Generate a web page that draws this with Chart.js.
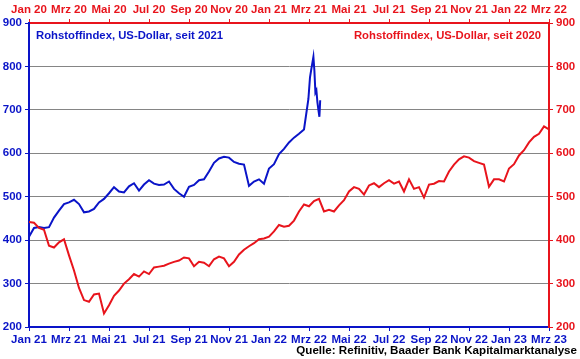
<!DOCTYPE html>
<html>
<head>
<meta charset="utf-8">
<script src="https://cdn.jsdelivr.net/npm/chart.js@4.4.0/dist/chart.umd.min.js"></script>
<style>
  html, body { margin: 0; padding: 0; background: #fff; }
  canvas { display: block; }
</style>
</head>
<body>
<canvas id="chart" width="580" height="359"></canvas>
<script>
// months between samples (x = months since start of each series)
const STEP = 0.25;

const topLabels = ['Jan 20', 'Mrz 20', 'Mai 20', 'Jul 20', 'Sep 20', 'Nov 20', 'Jan 21',
  'Mrz 21', 'Mai 21', 'Jul 21', 'Sep 21', 'Nov 21', 'Jan 22', 'Mrz 22'];
const bottomLabels = ['Jan 21', 'Mrz 21', 'Mai 21', 'Jul 21', 'Sep 21', 'Nov 21', 'Jan 22',
  'Mrz 22', 'Mai 22', 'Jul 22', 'Sep 22', 'Nov 22', 'Jan 23', 'Mrz 23'];

// Rohstoffindex seit 2020 (red, top axis), one value per quarter month
const red2020 = [
  442, 440, 428, 424,
  387, 383, 395, 402,
  365, 330, 290, 262,
  258, 275, 277, 231,
  250, 272, 284, 300,
  310, 322, 316, 328,
  322, 337, 339, 341,
  346, 350, 353, 360,
  358, 340, 350, 348,
  340, 356, 362, 358,
  340, 350, 367, 378,
  386, 393, 402, 404,
  408, 420, 435, 431,
  433, 445, 466, 482,
  478, 490, 495, 466,
  470, 466, 480, 492,
  512, 522, 518, 505,
  526, 531, 522, 531,
  538, 530, 535, 512,
  540, 518, 522, 498,
  528, 530, 536, 535,
  558, 574, 586, 593,
  590, 582, 578, 574,
  523, 540, 540, 535,
  565, 575, 595, 607,
  625, 638, 645, 662,
  655
];

// Rohstoffindex seit 2021 (blue, bottom axis), one value per quarter month
const blue2021 = [
  408, 428, 430, 428,
  430, 452, 468, 483,
  487, 493, 483, 464,
  466, 472, 487, 495,
  508, 522, 512, 510,
  524, 531, 514, 528,
  538, 530, 527, 528,
  535, 518, 508, 500,
  523, 527, 538, 540,
  558, 578, 588, 592,
  590, 580, 576, 574,
  525, 535, 540, 530,
  565, 575, 598, 610,
  625, 636, 645, 655
];
// March 2022 spike, finer samples
const blueSpikeMonths = [13.97, 14.05, 14.12, 14.22, 14.27, 14.32, 14.37, 14.42, 14.47, 14.52, 14.56];
const blueSpikeValues = [725, 775, 795, 822, 790, 740, 745, 718, 700, 684, 722];

const RED = '#e8141c';
const BLUE = '#0a14c8';
const FONT = '"Liberation Sans", Arial, sans-serif';

const redPoints = red2020.map((v, i) => ({ x: i * STEP, y: v }));
const bluePoints = blue2021.map((v, i) => ({ x: i * STEP, y: v }))
  .concat(blueSpikeMonths.map((m, i) => ({ x: m, y: blueSpikeValues[i] })));

const textPlugin = {
  id: 'texts',
  afterDraw(chart) {
    const ctx = chart.ctx;
    const a = chart.chartArea;
    ctx.save();
    ctx.font = 'bold 11.3px ' + FONT;
    ctx.textBaseline = 'alphabetic';
    ctx.fillStyle = BLUE;
    ctx.textAlign = 'left';
    ctx.fillText('Rohstoffindex, US-Dollar, seit 2021', a.left + 7, a.top + 16);
    ctx.fillStyle = RED;
    ctx.textAlign = 'right';
    ctx.fillText('Rohstoffindex, US-Dollar, seit 2020', a.right - 8, a.top + 16);
    ctx.font = 'bold 11.6px ' + FONT;
    ctx.fillStyle = '#000';
    ctx.fillText('Quelle: Refinitiv, Baader Bank Kapitalmarktanalyse', 577, 354);
    ctx.restore();
  }
};

const tickFont = { family: FONT, size: 11.5, weight: 'bold' };

function xAxis(pos, labels, color, h) {
  return {
    type: 'linear', position: pos, min: 0, max: 26,
    ticks: {
      stepSize: 2, autoSkip: false, maxRotation: 0, color, font: tickFont, padding: 2,
      callback: v => labels[Math.round(v / 2)] ?? ''
    },
    grid: { drawOnChartArea: false, tickLength: 4, tickColor: color },
    border: { color, width: 2 },
    afterFit: s => { s.height = h; }
  };
}

function yAxis(pos, color, w, grid) {
  return {
    type: 'linear', position: pos, min: 200, max: 900,
    ticks: { stepSize: 100, color, font: tickFont, padding: 3 },
    grid: { drawOnChartArea: grid, color: '#858585', lineWidth: 1, tickLength: 4, tickColor: color },
    border: { color, width: 2 },
    afterFit: s => { s.width = w; }
  };
}

new Chart(document.getElementById('chart'), {
  type: 'line',
  data: {
    datasets: [
      { label: 'seit 2020', data: redPoints, xAxisID: 'xTop', yAxisID: 'y2',
        borderColor: RED, borderWidth: 2, pointRadius: 0, tension: 0 },
      { label: 'seit 2021', data: bluePoints, xAxisID: 'x', yAxisID: 'y',
        borderColor: BLUE, borderWidth: 2, pointRadius: 0, tension: 0 }
    ]
  },
  options: {
    responsive: false,
    animation: false,
    devicePixelRatio: 1,
    layout: { padding: 0 },
    plugins: { legend: { display: false }, tooltip: { enabled: false } },
    scales: {
      x: xAxis('bottom', bottomLabels, BLUE, 32),
      xTop: xAxis('top', topLabels, RED, 23),
      y: yAxis('left', BLUE, 29, true),
      y2: yAxis('right', RED, 31, false)
    }
  },
  plugins: [textPlugin]
});
</script>
</body>
</html>
